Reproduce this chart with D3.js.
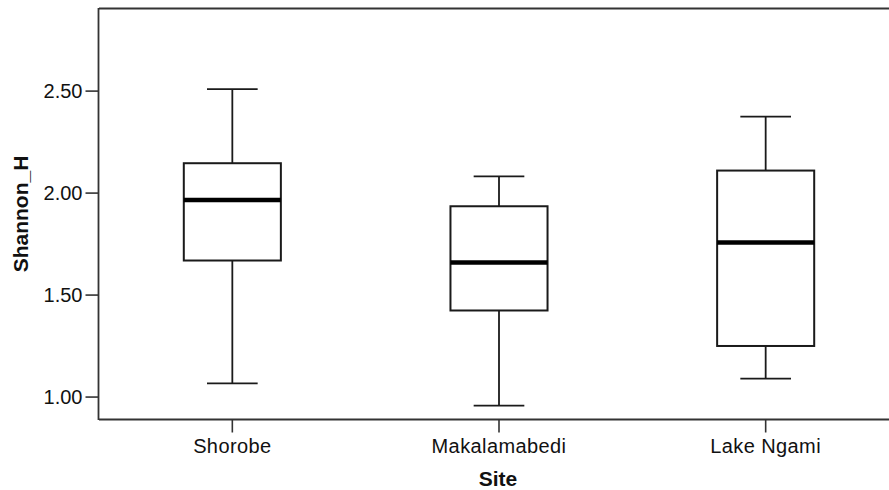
<!DOCTYPE html>
<html>
<head>
<meta charset="utf-8">
<script src="https://cdn.jsdelivr.net/npm/d3@7/dist/d3.min.js"></script>
<style>
  html, body { margin: 0; padding: 0; background: #fff; }
  svg { display: block; }
  text { font-family: "Liberation Sans", Arial, sans-serif; fill: #111; }
</style>
</head>
<body>
<svg id="chart" width="889" height="490"></svg>
<script>
const categories = ["Shorobe", "Makalamabedi", "Lake Ngami"];
const whiskerLow  = [1.065, 0.956, 1.088];
const q1          = [1.667, 1.422, 1.248];
const median      = [1.964, 1.657, 1.755];
const q3          = [2.144, 1.933, 2.108];
const whiskerHigh = [2.507, 2.080, 2.372];
const yTicks = [1.00, 1.50, 2.00, 2.50];
const xTitle = "Site";
const yTitle = "Shannon_H";

(function () {
const data = categories.map((c, i) => ({
  cat: c, lo: whiskerLow[i], q1: q1[i], med: median[i], q3: q3[i], hi: whiskerHigh[i]
}));

const svg = d3.select("#chart");
const pL = 99, pR = 899, pT = 8, pB = 419;

const x = d3.scaleBand().domain(categories).range([pL, pR]).padding(0);
const y = d3.scaleLinear().domain([0.89, 2.905]).range([pB, pT]);

const boxW = x.bandwidth() * 0.364;
const capW = x.bandwidth() * 0.19;
const lineColor = "#1a1a1a";
const sw = 1.8;

// frame
svg.append("line").attr("x1", pL).attr("x2", 889).attr("y1", pT + 0.5).attr("y2", pT + 0.5)
  .attr("stroke", "#333").attr("stroke-width", sw);
svg.append("line").attr("x1", pL).attr("x2", 889).attr("y1", pB + 0.5).attr("y2", pB + 0.5)
  .attr("stroke", "#333").attr("stroke-width", sw);
svg.append("line").attr("x1", pL - 0.5).attr("x2", pL - 0.5).attr("y1", pT).attr("y2", pB + 1)
  .attr("stroke", "#333").attr("stroke-width", sw);

// y axis
const yAxis = d3.axisLeft(y).tickValues(yTicks).tickFormat(d3.format(".2f")).tickSize(13).tickSizeOuter(0).tickPadding(3);
const gy = svg.append("g").attr("transform", `translate(${pL - 0.5},0)`).call(yAxis);
gy.select(".domain").remove();
gy.selectAll(".tick line").attr("stroke", "#333").attr("stroke-width", 1.6);
gy.selectAll(".tick text").attr("font-size", 20).attr("fill", "#111")
  .attr("font-family", "'Liberation Sans', Arial, sans-serif").attr("dy", "0.36em");

// x axis
const xAxis = d3.axisBottom(x).tickSize(13).tickSizeOuter(0).tickPadding(6);
const gx = svg.append("g").attr("transform", `translate(0,${pB + 0.5})`).call(xAxis);
gx.select(".domain").remove();
gx.selectAll(".tick line").attr("stroke", "#333").attr("stroke-width", 1.6);
gx.selectAll(".tick text").attr("font-size", 20).attr("fill", "#111")
  .attr("font-family", "'Liberation Sans', Arial, sans-serif").style("letter-spacing", "0.4px");

// boxes
const g = svg.append("g");
data.forEach(d => {
  const cx = x(d.cat) + x.bandwidth() / 2;
  g.append("line").attr("x1", cx).attr("x2", cx).attr("y1", y(d.hi)).attr("y2", y(d.q3))
    .attr("stroke", lineColor).attr("stroke-width", sw);
  g.append("line").attr("x1", cx).attr("x2", cx).attr("y1", y(d.q1)).attr("y2", y(d.lo))
    .attr("stroke", lineColor).attr("stroke-width", sw);
  g.append("line").attr("x1", cx - capW / 2).attr("x2", cx + capW / 2).attr("y1", y(d.hi)).attr("y2", y(d.hi))
    .attr("stroke", lineColor).attr("stroke-width", sw);
  g.append("line").attr("x1", cx - capW / 2).attr("x2", cx + capW / 2).attr("y1", y(d.lo)).attr("y2", y(d.lo))
    .attr("stroke", lineColor).attr("stroke-width", sw);
  g.append("rect").attr("x", cx - boxW / 2).attr("width", boxW)
    .attr("y", y(d.q3)).attr("height", y(d.q1) - y(d.q3))
    .attr("fill", "#fff").attr("stroke", lineColor).attr("stroke-width", 2);
  g.append("line").attr("x1", cx - boxW / 2).attr("x2", cx + boxW / 2).attr("y1", y(d.med)).attr("y2", y(d.med))
    .attr("stroke", "#000").attr("stroke-width", 4.5);
});

// titles
svg.append("text").attr("x", 498).attr("y", 486)
  .attr("text-anchor", "middle").attr("font-size", 21).attr("font-weight", "bold").text(xTitle);
svg.append("text").attr("transform", "translate(28,214) rotate(-90)")
  .attr("text-anchor", "middle").attr("font-size", 21).attr("font-weight", "bold").text(yTitle);
})();
</script>
</body>
</html>
